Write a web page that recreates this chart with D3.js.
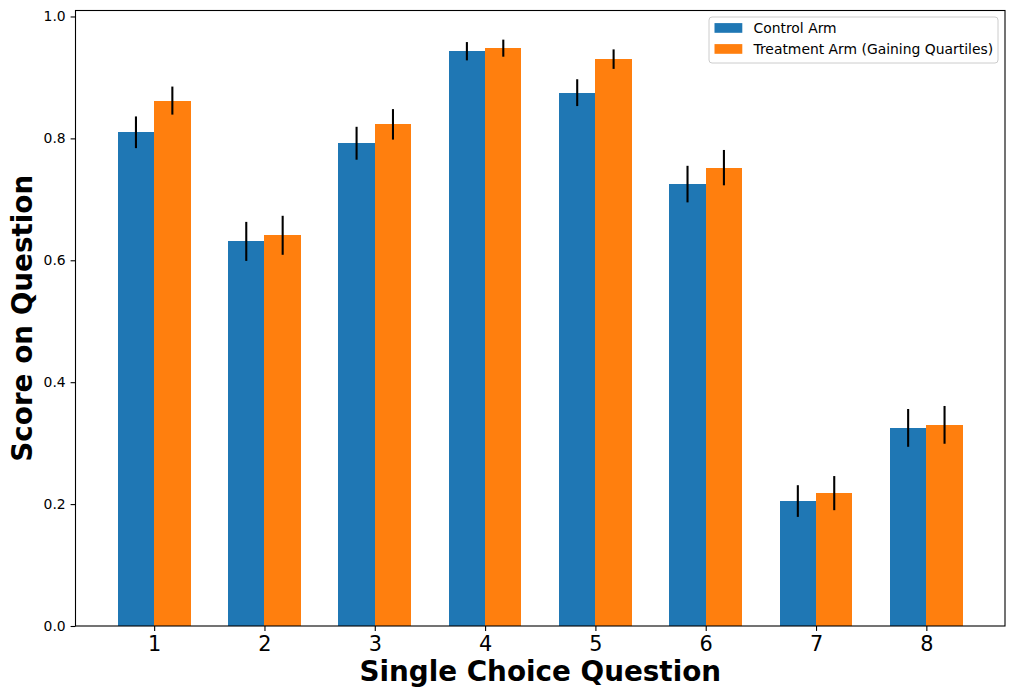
<!DOCTYPE html>
<html>
<head>
<meta charset="utf-8">
<script src="https://cdn.jsdelivr.net/npm/d3@7"></script>
<style>
  body { margin: 0; background: #fff; }
  svg { display: block; font-family: "DejaVu Sans", sans-serif; }
</style>
</head>
<body>
<div id="chart"></div>
<script>
// data
var questions = [1, 2, 3, 4, 5, 6, 7, 8];
var controlScore = [0.810, 0.631, 0.792, 0.943, 0.875, 0.725, 0.205, 0.325];
var controlErr = [0.026, 0.032, 0.027, 0.015, 0.022, 0.030, 0.026, 0.031];
var treatScore = [0.862, 0.641, 0.823, 0.948, 0.930, 0.752, 0.218, 0.330];
var treatErr = [0.023, 0.032, 0.025, 0.014, 0.016, 0.029, 0.028, 0.031];
var yTicks = [0.0, 0.2, 0.4, 0.6, 0.8, 1.0];
var seriesNames = ["Control Arm", "Treatment Arm (Gaining Quartiles)"];
var colors = ["#1f77b4", "#ff7f0e"];

var W = 1015, H = 699;
var margin = {left: 75.5, right: 10, top: 10.5, bottom: 73};
var barW = 0.33;

var svg = d3.select("#chart").append("svg")
    .attr("width", W)
    .attr("height", H);

var pad = (questions.length - 1 + 2 * barW) * 0.05;
var x = d3.scaleLinear()
    .domain([questions[0] - barW - pad, questions[questions.length - 1] + barW + pad])
    .range([margin.left, W - margin.right]);
var y = d3.scaleLinear()
    .domain([0, 1.0098])
    .range([H - margin.bottom, margin.top]);

var series = [
    {name: seriesNames[0], vals: controlScore, errs: controlErr, off: -barW, color: colors[0]},
    {name: seriesNames[1], vals: treatScore, errs: treatErr, off: 0, color: colors[1]}
];

// bars
series.forEach(function(s) {
    svg.append("g").selectAll("rect")
        .data(questions)
        .enter().append("rect")
        .attr("x", function(q) { return x(q + s.off); })
        .attr("width", function(q) { return x(q + s.off + barW) - x(q + s.off); })
        .attr("y", function(q, i) { return y(s.vals[i]); })
        .attr("height", function(q, i) { return y(0) - y(s.vals[i]); })
        .attr("shape-rendering", "crispEdges")
        .attr("fill", s.color);
});

// error bars
series.forEach(function(s) {
    svg.append("g").selectAll("line")
        .data(questions)
        .enter().append("line")
        .attr("x1", function(q) { return x(q + s.off + barW / 2); })
        .attr("x2", function(q) { return x(q + s.off + barW / 2); })
        .attr("y1", function(q, i) { return y(s.vals[i] - s.errs[i]); })
        .attr("y2", function(q, i) { return y(s.vals[i] + s.errs[i]); })
        .attr("stroke", "#000")
        .attr("stroke-width", 2.08);
});

// axes
var xAxis = d3.axisBottom(x).tickValues(questions).tickFormat(d3.format("d"))
    .tickSize(4.9).tickPadding(4.9);
var yAxis = d3.axisLeft(y).tickValues(yTicks).tickFormat(d3.format(".1f"))
    .tickSize(4.9).tickPadding(4.9);

var gx = svg.append("g")
    .attr("transform", "translate(0," + (H - margin.bottom) + ")")
    .call(xAxis);
gx.select(".domain").remove();
gx.selectAll("text").attr("font-size", "20.8px").attr("fill", "#000")
    .attr("font-family", "DejaVu Sans");
gx.selectAll("line").attr("stroke-width", 1.1);

var gy = svg.append("g")
    .attr("transform", "translate(" + margin.left + ",0)")
    .call(yAxis);
gy.select(".domain").remove();
gy.selectAll("text").attr("font-size", "13.9px").attr("fill", "#000")
    .attr("font-family", "DejaVu Sans");
gy.selectAll("line").attr("stroke-width", 1.1);

// frame
svg.append("rect")
    .attr("x", margin.left)
    .attr("y", margin.top)
    .attr("width", W - margin.right - margin.left)
    .attr("height", H - margin.bottom - margin.top)
    .attr("fill", "none")
    .attr("stroke", "#000")
    .attr("stroke-width", 1.1);

// axis titles
svg.append("text")
    .attr("x", (margin.left + W - margin.right) / 2)
    .attr("y", 681)
    .attr("text-anchor", "middle")
    .attr("font-size", "27.8px")
    .attr("font-weight", "bold")
    .text("Single Choice Question");

svg.append("text")
    .attr("transform", "translate(32," + ((margin.top + H - margin.bottom) / 2) + ") rotate(-90)")
    .attr("text-anchor", "middle")
    .attr("font-size", "27.8px")
    .attr("font-weight", "bold")
    .text("Score on Question");

// legend
var lg = svg.append("g").attr("transform", "translate(709,17)");
lg.append("rect")
    .attr("width", 289).attr("height", 46)
    .attr("rx", 3)
    .attr("fill", "#fff").attr("fill-opacity", 0.8)
    .attr("stroke", "#ccc").attr("stroke-width", 1);
series.forEach(function(s, i) {
    var row = lg.append("g").attr("transform", "translate(0," + (11 + i * 21) + ")");
    row.append("rect")
        .attr("x", 5.5).attr("y", -4.9)
        .attr("width", 27.8).attr("height", 9.7)
        .attr("fill", s.color);
    row.append("text")
        .attr("x", 44.5).attr("y", 0)
        .attr("dy", "0.35em")
        .attr("font-size", "13.9px")
        .text(s.name);
});
</script>
</body>
</html>
